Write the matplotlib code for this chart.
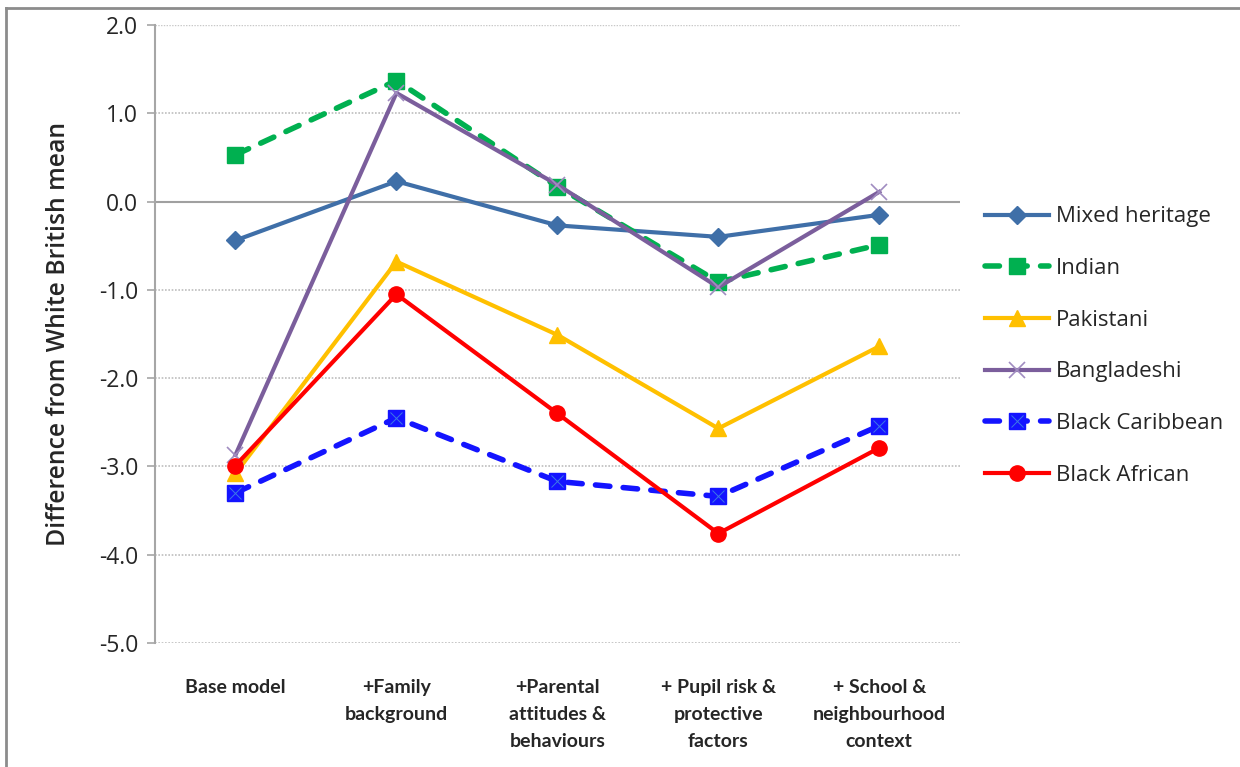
import matplotlib
matplotlib.use("Agg")
import matplotlib.pyplot as plt
from matplotlib.lines import Line2D

# model steps along the x axis
categories = ["Base model", "+Family\nbackground", "+Parental\nattitudes &\nbehaviours",
              "+ Pupil risk &\nprotective\nfactors", "+ School &\nneighbourhood\ncontext"]

mixed_heritage = [-0.44, 0.23, -0.27, -0.40, -0.15]
indian = [0.53, 1.37, 0.17, -0.91, -0.49]
pakistani = [-3.08, -0.68, -1.51, -2.57, -1.64]
bangladeshi = [-2.87, 1.23, 0.19, -0.97, 0.11]
black_caribbean = [-3.30, -2.45, -3.17, -3.34, -2.54]
black_african = [-2.99, -1.05, -2.40, -3.76, -2.79]

yticks = [2.0, 1.0, 0.0, -1.0, -2.0, -3.0, -4.0, -5.0]

FONT = ["Open Sans", "DejaVu Sans"]
INK = "#262626"
AXIS = "#a6a6a6"

plt.rcParams["font.family"] = FONT

fig = plt.figure(figsize=(12.4, 7.67), dpi=100)
ax = fig.add_axes([0.125, 0.1617, 0.649, 0.8057])

x = list(range(len(categories)))
dash = (0, (2.6, 2.4))

ax.plot(x, mixed_heritage, color="#3f6fa8", lw=3, marker="D", ms=9,
        mec="#3f6fa8", label="Mixed heritage", zorder=3)
ax.plot(x, indian, color="#00b050", lw=4, ls=dash, dash_capstyle="round",
        marker="s", ms=11, mec="#00b050", label="Indian", zorder=4)
ax.plot(x, pakistani, color="#ffc000", lw=3, marker="^", ms=11,
        mec="#ffc000", label="Pakistani", zorder=5)
ax.plot(x, bangladeshi, color="#7b5e9c", lw=3, marker="x", ms=12, mew=1.2,
        mec="#a08cc0", label="Bangladeshi", zorder=6)
ax.plot(x, black_caribbean, color="#1414ff", lw=4, ls=dash, dash_capstyle="round",
        marker="s", ms=11, mec="#1414ff", zorder=7)
ax.plot(x, black_caribbean, ls="none", marker="x", ms=8, mew=0.7,
        mec="#3c78e6", zorder=7.5)
ax.plot(x, black_african, color="#ff0000", lw=3, marker="o", ms=11,
        mec="#ff0000", label="Black African", zorder=8)

ax.set_xlim(-0.5, len(categories) - 0.5)
ax.set_ylim(-5, 2)
ax.set_yticks(yticks)
ax.set_yticklabels([f"{v:.1f}" for v in yticks], fontsize=16.5, color=INK)
ax.tick_params(axis="y", length=6, color=AXIS, width=1.2, pad=6)

ax.set_xticks(x)
ax.set_xticklabels(categories, fontsize=14, fontweight="bold", color=INK,
                   family=["Lato", "DejaVu Sans"], linespacing=1.7)
ax.tick_params(axis="x", length=0, pad=26)

for s in ("top", "right", "bottom"):
    ax.spines[s].set_visible(False)
ax.spines["left"].set_color(AXIS)
ax.spines["left"].set_linewidth(1.5)

for v in yticks:
    if v == 0:
        ax.axhline(v, color="#a0a0a0", lw=1.5, zorder=1)
    elif v != 2.0:
        ax.axhline(v, color="#bdbdbd", lw=1.2, ls=(0, (1, 1)), zorder=1)
ax.axhline(2.0, color="#c8c8c8", lw=1.0, ls=(0, (1, 1)), zorder=1)

ax.set_ylabel("Difference from White British mean", fontsize=17.8, fontweight="semibold",
              color=INK, labelpad=20)

# legend handles, the Caribbean one gets its overlaid cross
handles = [
    Line2D([], [], color="#3f6fa8", lw=3, marker="D", ms=9),
    Line2D([], [], color="#00b050", lw=4, ls=dash, dash_capstyle="round", marker="s", ms=11),
    Line2D([], [], color="#ffc000", lw=3, marker="^", ms=11),
    Line2D([], [], color="#7b5e9c", lw=3, marker="x", ms=12, mew=1.2, mec="#a08cc0"),
    (Line2D([], [], color="#1414ff", lw=4, ls=dash, dash_capstyle="round", marker="s", ms=11),
     Line2D([], [], ls="none", marker="x", ms=8, mew=0.7, mec="#3c78e6")),
    Line2D([], [], color="#ff0000", lw=3, marker="o", ms=11),
]
labels = ["Mixed heritage", "Indian", "Pakistani", "Bangladeshi", "Black Caribbean",
          "Black African"]
fig.legend(handles, labels, loc="upper left", bbox_to_anchor=(0.778, 0.757),
           frameon=False, fontsize=16, handlelength=2.9, handletextpad=0.3,
           labelspacing=1.38, labelcolor=INK)

# outer chart border, visible on top and left
fig.add_artist(Line2D([0.005, 1.0], [0.989, 0.989], color="#8c8c8c", lw=2))
fig.add_artist(Line2D([0.005, 0.005], [0.0, 0.989], color="#8c8c8c", lw=2))

fig.savefig("out.png", dpi=100)
